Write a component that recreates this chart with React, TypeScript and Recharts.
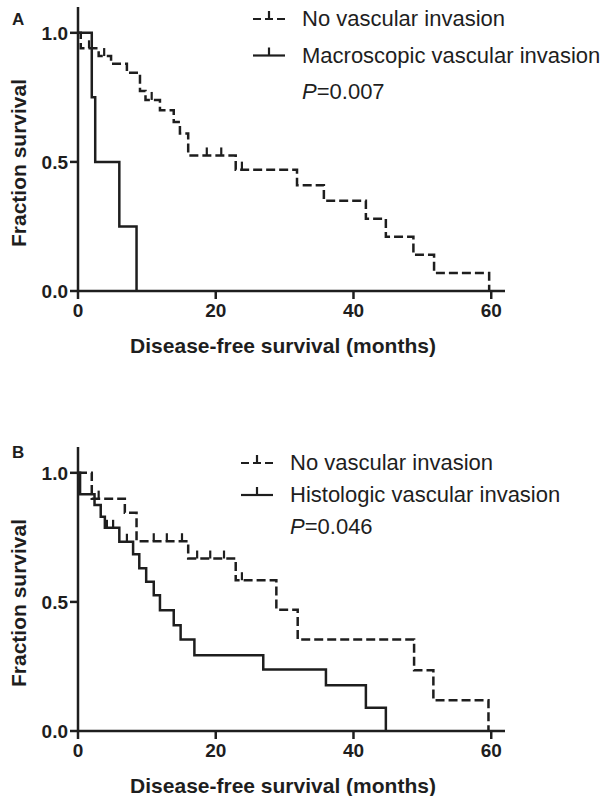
import React from "react";
import { ComposedChart, Line, Scatter, XAxis, YAxis } from "recharts";

// Panel A: no vascular invasion vs macroscopic vascular invasion
const aNoTime = [0, 0.4, 3.0, 4.8, 7.1, 9.0, 9.8, 11.9, 13.9, 14.8, 16.0, 22.9, 31.8, 35.7, 41.8, 44.7, 48.7, 51.7, 59.7];
const aNoSurv = [1.0, 0.94, 0.91, 0.88, 0.845, 0.775, 0.74, 0.7, 0.655, 0.61, 0.525, 0.47, 0.41, 0.35, 0.28, 0.21, 0.14, 0.07, 0.0];
const aNoCensTime = [1.6, 3.8, 10.7, 18.7, 20.8, 23.8];
const aNoCensSurv = [0.94, 0.91, 0.74, 0.525, 0.525, 0.47];
const aMacTime = [0, 2.0, 2.5, 6.0, 8.5];
const aMacSurv = [1.0, 0.75, 0.5, 0.25, 0.0];

// Panel B: no vascular invasion vs histologic vascular invasion
const bNoTime = [0, 2.0, 6.8, 8.5, 16.0, 22.9, 28.8, 31.9, 48.8, 51.6, 59.6];
const bNoSurv = [1.0, 0.9, 0.845, 0.735, 0.668, 0.584, 0.47, 0.354, 0.235, 0.119, 0.0];
const bNoCensTime = [3.0, 11.0, 12.9, 15.1, 17.3, 19.2, 21.2, 23.8];
const bNoCensSurv = [0.9, 0.735, 0.735, 0.735, 0.668, 0.668, 0.668, 0.584];
const bHisTime = [0, 0.3, 2.4, 3.3, 3.9, 6.0, 8.0, 8.9, 9.9, 11.0, 11.9, 13.9, 14.9, 16.9, 26.9, 36.0, 41.8, 44.7];
const bHisSurv = [1.0, 0.917, 0.875, 0.83, 0.787, 0.733, 0.685, 0.63, 0.578, 0.526, 0.468, 0.41, 0.354, 0.293, 0.238, 0.177, 0.09, 0.0];
const bHisCensTime = [4.2, 5.1, 7.1];
const bHisCensSurv = [0.787, 0.787, 0.733];

const xTicks = [0, 20, 40, 60];
const yTicks = [0, 0.5, 1.0];

const INK = "#1e1e1e";
const FONT = "'Liberation Sans', Arial, sans-serif";

const zip = (t: number[], s: number[]) => t.map((v, i) => ({ t: v, s: s[i] }));

const CensorTick = (props: any) => {
  const { cx, cy } = props;
  if (cx == null || cy == null) return null;
  return <line x1={cx} x2={cx} y1={cy} y2={cy - 8} stroke={INK} strokeWidth={2.2} />;
};

function KMPanel({ noData, noCens, otherData, otherCens }: any) {
  return (
    <ComposedChart width={608} height={330} margin={{ top: 7, right: 103, bottom: 0, left: 0 }}>
      <XAxis
        type="number"
        dataKey="t"
        domain={[0, 62]}
        ticks={xTicks}
        allowDataOverflow
        height={39}
        tickSize={8}
        tickMargin={5}
        axisLine={{ stroke: INK, strokeWidth: 2.5 }}
        tickLine={{ stroke: INK, strokeWidth: 2.5 }}
        tick={{ fill: INK, fontSize: 19, fontWeight: "bold", fontFamily: FONT }}
      />
      <YAxis
        type="number"
        dataKey="s"
        domain={[0, 1.1]}
        ticks={yTicks}
        allowDataOverflow
        width={78}
        tickSize={8}
        tickMargin={2}
        tickFormatter={(v: number) => v.toFixed(1)}
        axisLine={{ stroke: INK, strokeWidth: 2.5 }}
        tickLine={{ stroke: INK, strokeWidth: 2.5 }}
        tick={{ fill: INK, fontSize: 19, fontWeight: "bold", fontFamily: FONT }}
      />
      <Line data={noData} dataKey="s" type="stepAfter" stroke={INK} strokeWidth={2.5} strokeDasharray="9 4" dot={false} isAnimationActive={false} />
      <Line data={otherData} dataKey="s" type="stepAfter" stroke={INK} strokeWidth={2.5} dot={false} isAnimationActive={false} />
      <Scatter data={noCens} dataKey="s" shape={CensorTick} isAnimationActive={false} />
      {otherCens.length > 0 && <Scatter data={otherCens} dataKey="s" shape={CensorTick} isAnimationActive={false} />}
    </ComposedChart>
  );
}

function LegendBlock({ x, y0, gap, other, p }: any) {
  const sx = x - 49;
  const row = (i: number) => y0 + i * gap;
  return (
    <g>
      <line x1={sx} x2={sx + 32} y1={row(0) - 7} y2={row(0) - 7} stroke={INK} strokeWidth={2.2} strokeDasharray="8 4" />
      <line x1={sx + 16} x2={sx + 16} y1={row(0) - 7} y2={row(0) - 15} stroke={INK} strokeWidth={2.2} />
      <line x1={sx} x2={sx + 32} y1={row(1) - 7} y2={row(1) - 7} stroke={INK} strokeWidth={2.2} />
      <line x1={sx + 16} x2={sx + 16} y1={row(1) - 7} y2={row(1) - 15} stroke={INK} strokeWidth={2.2} />
      <text x={x} y={row(0)} fontSize={22} fontFamily={FONT} fill={INK}>No vascular invasion</text>
      <text x={x} y={row(1)} fontSize={22} fontFamily={FONT} fill={INK}>{other}</text>
      <text x={x} y={row(2)} fontSize={22} fontFamily={FONT} fill={INK}>
        <tspan fontStyle="italic">P</tspan>={p}
      </text>
    </g>
  );
}

export default function App() {
  const labelStyle = { fontSize: 21, fontWeight: "bold" as const, fontFamily: FONT, fill: INK };
  return (
    <div style={{ position: "absolute", left: 0, top: 0, width: 608, height: 796, background: "#fff" }}>
      <div style={{ position: "absolute", left: 0, top: 0 }}>
        <KMPanel noData={zip(aNoTime, aNoSurv)} noCens={zip(aNoCensTime, aNoCensSurv)} otherData={zip(aMacTime, aMacSurv)} otherCens={[]} />
      </div>
      <div style={{ position: "absolute", left: 0, top: 440 }}>
        <KMPanel noData={zip(bNoTime, bNoSurv)} noCens={zip(bNoCensTime, bNoCensSurv)} otherData={zip(bHisTime, bHisSurv)} otherCens={zip(bHisCensTime, bHisCensSurv)} />
      </div>
      <svg width={608} height={796} style={{ position: "absolute", left: 0, top: 0, pointerEvents: "none" }}>
        <text x={12} y={25} fontSize={17} fontWeight="bold" fontFamily={FONT} fill={INK}>A</text>
        <text x={12} y={458} fontSize={17} fontWeight="bold" fontFamily={FONT} fill={INK}>B</text>
        <text transform="translate(26,163) rotate(-90)" textAnchor="middle" {...labelStyle}>Fraction survival</text>
        <text transform="translate(26,603) rotate(-90)" textAnchor="middle" {...labelStyle}>Fraction survival</text>
        <text x={283} y={353} textAnchor="middle" {...labelStyle}>Disease-free survival (months)</text>
        <text x={283} y={793} textAnchor="middle" {...labelStyle}>Disease-free survival (months)</text>
        <LegendBlock x={302} y0={26} gap={36.5} other="Macroscopic vascular invasion" p="0.007" />
        <LegendBlock x={290} y0={470} gap={32} other="Histologic vascular invasion" p="0.046" />
      </svg>
    </div>
  );
}
